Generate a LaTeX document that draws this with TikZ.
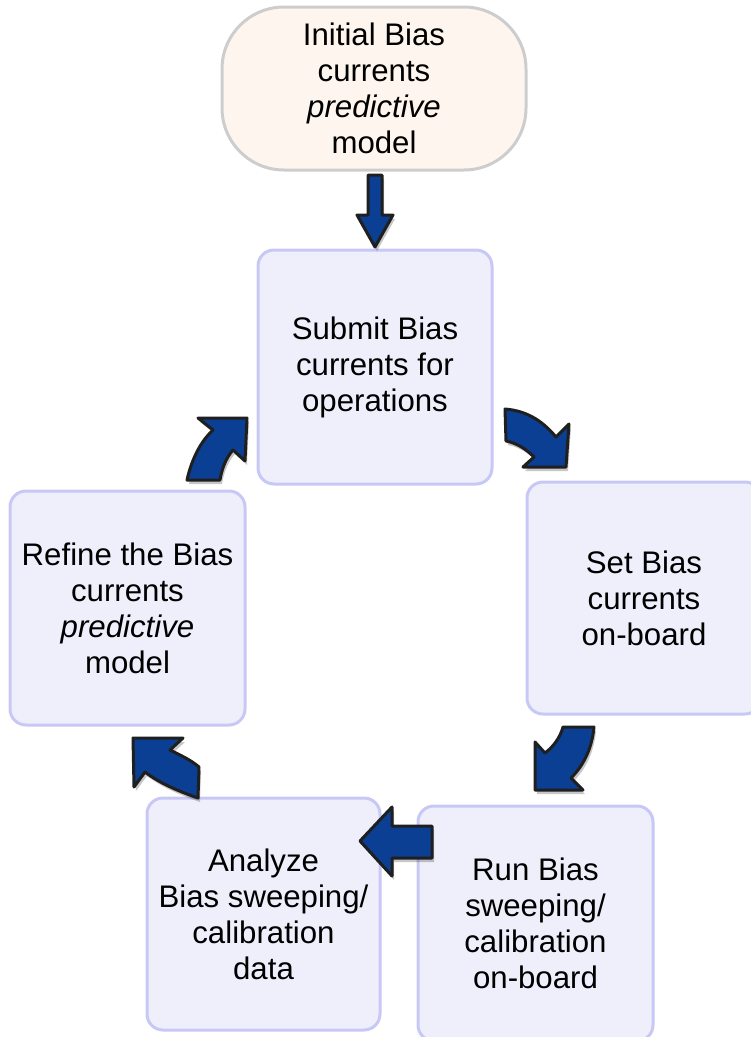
\documentclass[tikz,border=0pt]{standalone}
\usepackage{fontspec}
\setmainfont{Liberation Sans}
\usetikzlibrary{shadows}
\definecolor{boxfill}{HTML}{EFEFFC}
\definecolor{boxline}{HTML}{C8C8F6}
\definecolor{topfill}{HTML}{FEF6EE}
\definecolor{topline}{HTML}{CDCDCD}
\definecolor{arrowblue}{HTML}{0B3F94}
\tikzset{
  stepbox/.style={draw=boxline, fill=boxfill, line width=3pt, rounded corners=16pt,
    align=center, inner sep=0pt, font=\fontsize{31.2}{36}\selectfont},
  startbox/.style={draw=topline, fill=topfill, line width=3pt, rounded corners=62pt,
    align=center, inner sep=0pt, font=\fontsize{31.2}{36}\selectfont},
  blockarrow/.style={fill=arrowblue, draw=black!88, line width=3pt, line join=round,
    drop shadow={shadow xshift=2pt, shadow yshift=-4pt, opacity=0.22, fill=black}}
}
\begin{document}
\begin{tikzpicture}[x=1pt,y=-1pt]
\useasboundingbox (0,0) rectangle (751,1037);

\node[startbox, minimum width=304pt, minimum height=163pt] (init) at (374,88.5)
  {Initial Bias\\currents\\\textit{predictive}\\model};
\node[stepbox, minimum width=234pt, minimum height=234pt] (submit) at (375,367)
  {Submit Bias\\currents for\\operations};
\node[stepbox, minimum width=234pt, minimum height=232pt] (set) at (644,598)
  {Set Bias\\currents\\on-board};
\node[stepbox, minimum width=235pt, minimum height=235pt] (run) at (535.5,923.5)
  {Run Bias\\sweeping/\\calibration\\on-board};
\node[stepbox, minimum width=233pt, minimum height=232pt] (analyze) at (263.5,914)
  {Analyze\\Bias sweeping/\\calibration\\data};
\node[stepbox, minimum width=235pt, minimum height=234pt] (refine) at (127.5,608)
  {Refine the Bias\\currents\\\textit{predictive}\\model};

% init -> submit
\draw[blockarrow] (368,175) -- (382,175) -- (382,215) -- (393,215) -- (375,247)
  -- (357,215) -- (368,215) -- cycle;
% submit -> set
\draw[blockarrow] (505,409) .. controls (530,411) and (545,424) .. (556,437)
  -- (569,424) -- (566,467) -- (523,467) -- (534,457)
  .. controls (525,448) and (516,443) .. (506,441) -- cycle;
% set -> run
\draw[blockarrow] (563,727) -- (594,727) .. controls (592,748) and (584,765) .. (571,778)
  -- (583,790) -- (535,790) -- (535,742) -- (545,753)
  .. controls (553,747) and (560,738) .. (563,727) -- cycle;
% run -> analyze
\draw[blockarrow] (360,841) -- (392,807) -- (392,826) -- (432,826) -- (432,858)
  -- (392,858) -- (392,876) -- cycle;
% analyze -> refine
\draw[blockarrow] (133,738) -- (183,738) -- (170,750)
  .. controls (180,755) and (191,760) .. (199,767) -- (198,798)
  .. controls (175,790) and (158,782) .. (145,772) -- (134,787) -- cycle;
% refine -> submit
\draw[blockarrow] (187,480) .. controls (191,462) and (199,443) .. (213,430)
  -- (198,418) -- (247,418) -- (245,461) -- (233,450)
  .. controls (226,458) and (222,468) .. (220,480) -- cycle;
\end{tikzpicture}
\end{document}
